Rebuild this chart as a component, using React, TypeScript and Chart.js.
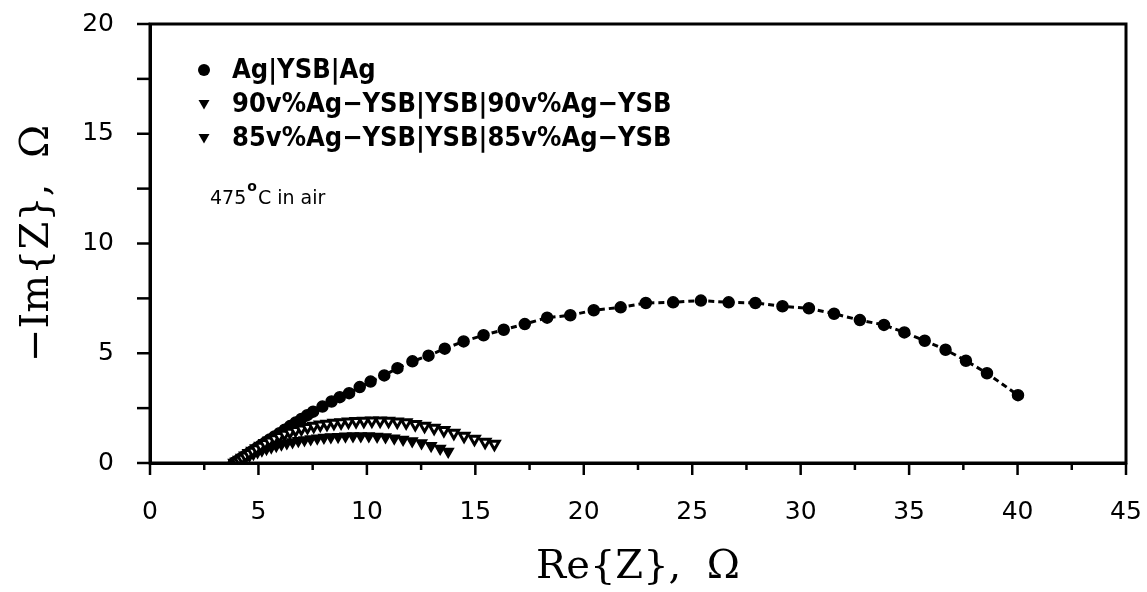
import React, { useEffect, useRef } from "react";
import { Chart, registerables } from "chart.js";

Chart.register(...registerables);

// Ag|YSB|Ag impedance spectrum (Re, -Im) in ohms
const agRe = [
  3.87, 3.95, 4.05, 4.16, 4.28, 4.42, 4.57, 4.74, 4.92, 5.11, 5.31, 5.52, 5.74, 5.97, 6.21, 6.46,
  6.72, 6.98, 7.25, 7.52, 7.95, 8.37, 8.75, 9.18, 9.67, 10.17, 10.8, 11.41, 12.1, 12.84, 13.59,
  14.46, 15.38, 16.31, 17.28, 18.31, 19.38, 20.46, 21.7, 22.86, 24.12, 25.4, 26.68, 27.91, 29.16,
  30.38, 31.54, 32.73, 33.84, 34.78, 35.72, 36.68, 37.62, 38.59, 40.02,
];
const agIm = [
  0.0, 0.05, 0.11, 0.18, 0.26, 0.35, 0.45, 0.56, 0.68, 0.8, 0.93, 1.07, 1.21, 1.36, 1.52, 1.68,
  1.85, 2.01, 2.18, 2.34, 2.57, 2.8, 3.0, 3.18, 3.46, 3.71, 3.99, 4.32, 4.63, 4.89, 5.21, 5.54,
  5.82, 6.07, 6.33, 6.62, 6.73, 6.96, 7.09, 7.29, 7.32, 7.4, 7.32, 7.29, 7.14, 7.05, 6.8, 6.51,
  6.29, 5.95, 5.57, 5.16, 4.66, 4.09, 3.09,
];

// 90v%Ag-YSB|YSB|90v%Ag-YSB
const ag90Re = [
  3.9, 4.0, 4.12, 4.25, 4.4, 4.56, 4.73, 4.91, 5.1, 5.3, 5.51, 5.73, 5.96, 6.2, 6.45, 6.71, 6.98,
  7.26, 7.55, 7.85, 8.16, 8.48, 8.81, 9.15, 9.5, 9.86, 10.23, 10.61, 11.0, 11.4, 11.81, 12.23,
  12.66, 13.1, 13.55, 14.01, 14.48, 14.96, 15.45, 15.88,
];
const ag90Im = [
  0.0, 0.06, 0.14, 0.23, 0.33, 0.44, 0.55, 0.66, 0.78, 0.9, 1.01, 1.12, 1.22, 1.32, 1.41, 1.49,
  1.56, 1.63, 1.69, 1.74, 1.78, 1.82, 1.85, 1.88, 1.9, 1.91, 1.92, 1.92, 1.91, 1.88, 1.84, 1.77,
  1.69, 1.6, 1.49, 1.37, 1.23, 1.09, 0.96, 0.86,
];

// 85v%Ag-YSB|YSB|85v%Ag-YSB
const ag85Re = [
  3.9, 4.0, 4.12, 4.26, 4.42, 4.59, 4.77, 4.96, 5.16, 5.37, 5.59, 5.82, 6.06, 6.31, 6.57, 6.84,
  7.12, 7.41, 7.71, 8.02, 8.34, 8.67, 9.01, 9.36, 9.72, 10.09, 10.47, 10.86, 11.26, 11.67, 12.09,
  12.52, 12.96, 13.38, 13.75,
];
const ag85Im = [
  0.0, 0.05, 0.11, 0.18, 0.26, 0.34, 0.42, 0.5, 0.58, 0.65, 0.72, 0.79, 0.85, 0.91, 0.96, 1.01,
  1.05, 1.09, 1.13, 1.16, 1.18, 1.2, 1.22, 1.23, 1.23, 1.23, 1.21, 1.18, 1.13, 1.07, 1.0, 0.91,
  0.79, 0.66, 0.52,
];

const seriesLabels = [
  "Ag|YSB|Ag",
  "90v%Ag\u2212YSB|YSB|90v%Ag\u2212YSB",
  "85v%Ag\u2212YSB|YSB|85v%Ag\u2212YSB",
];
const xTitle = "Re{Z},  \u03A9";
const yTitle = "\u2212Im{Z},  \u03A9";
const noteValue = "475";
const noteDegree = "o";
const noteRest = "C in air";

const xRange = [0, 45];
const yRange = [0, 20];
const minorStep = 2.5;
const labelStep = 5;

const W = 1147;
const H = 592;

const toPoints = (xs: number[], ys: number[]) => xs.map((x, i) => ({ x, y: ys[i] }));

const framePlugin = {
  id: "frameAndNotes",
  afterDraw(chart: any) {
    const { ctx, chartArea: a, scales } = chart;
    const xs = scales.x;
    const ys = scales.y;
    ctx.save();
    ctx.strokeStyle = "#000";
    ctx.fillStyle = "#000";

    // plot frame
    ctx.lineWidth = 3;
    ctx.strokeRect(a.left, a.top, a.right - a.left, a.bottom - a.top);

    // outward ticks
    ctx.lineWidth = 2.5;
    for (const t of xs.ticks) {
      const px = xs.getPixelForValue(t.value);
      const len = t.value % labelStep === 0 ? 12 : 7;
      ctx.beginPath();
      ctx.moveTo(px, a.bottom);
      ctx.lineTo(px, a.bottom + len);
      ctx.stroke();
    }
    for (const t of ys.ticks) {
      const py = ys.getPixelForValue(t.value);
      ctx.beginPath();
      ctx.moveTo(a.left, py);
      ctx.lineTo(a.left - 13, py);
      ctx.stroke();
    }

    // legend
    const lx = 204;
    const rows = [70, 104, 138];
    ctx.font = "bold 27px 'DejaVu Sans Condensed', 'DejaVu Sans'";
    ctx.textBaseline = "middle";
    ctx.textAlign = "left";
    seriesLabels.forEach((label, i) => {
      const cy = rows[i];
      ctx.beginPath();
      if (i === 0) {
        ctx.arc(lx, cy, 6, 0, Math.PI * 2);
      } else {
        ctx.moveTo(lx - 5.5, cy - 4);
        ctx.lineTo(lx + 5.5, cy - 4);
        ctx.lineTo(lx, cy + 5.5);
        ctx.closePath();
      }
      ctx.fill();
      ctx.fillText(label, 232, cy + 1);
    });

    // temperature note
    ctx.font = "19px 'DejaVu Sans'";
    ctx.textBaseline = "alphabetic";
    let nx = 210;
    const nb = 204;
    ctx.fillText(noteValue, nx, nb);
    nx += ctx.measureText(noteValue).width + 1;
    ctx.font = "bold 14px 'DejaVu Sans'";
    ctx.fillText(noteDegree, nx, nb - 13);
    nx += ctx.measureText(noteDegree).width + 1;
    ctx.font = "19px 'DejaVu Sans'";
    ctx.fillText(noteRest, nx, nb);

    ctx.restore();
  },
};

export default function App() {
  const canvasRef = useRef<HTMLCanvasElement | null>(null);

  useEffect(() => {
    document.body.style.margin = "0";
    const canvas = canvasRef.current;
    if (!canvas) return;

    const tickFont = { family: "'DejaVu Sans'", size: 25 };
    const titleFont = { family: "'DejaVu Serif'", size: 40, lineHeight: 1 };

    const chart = new Chart(canvas, {
      type: "scatter",
      data: {
        datasets: [
          {
            label: seriesLabels[1],
            data: toPoints(ag90Re, ag90Im),
            showLine: false,
            pointStyle: "triangle",
            rotation: 180,
            pointRadius: 5.5,
            pointBackgroundColor: "#fff",
            pointBorderColor: "#000",
            pointBorderWidth: 3,
          },
          {
            label: seriesLabels[2],
            data: toPoints(ag85Re, ag85Im),
            showLine: false,
            pointStyle: "triangle",
            rotation: 180,
            pointRadius: 6,
            pointBackgroundColor: "#000",
            pointBorderColor: "#000",
            pointBorderWidth: 1.5,
          },
          {
            label: seriesLabels[0],
            data: toPoints(agRe, agIm),
            showLine: true,
            borderColor: "#000",
            borderWidth: 3,
            borderDash: [6, 4],
            pointStyle: "circle",
            pointRadius: 5.5,
            pointBackgroundColor: "#000",
            pointBorderColor: "#000",
            pointBorderWidth: 1.5,
          },
        ],
      },
      options: {
        animation: false,
        responsive: false,
        maintainAspectRatio: false,
        layout: { padding: { left: 0, top: 24, right: 21, bottom: 0 } },
        plugins: {
          legend: { display: false },
          tooltip: { enabled: false },
        },
        scales: {
          x: {
            type: "linear",
            min: xRange[0],
            max: xRange[1],
            afterFit: (s: any) => {
              s.height = H - 463;
              s.paddingLeft = 0;
              s.paddingRight = 0;
            },
            ticks: {
              stepSize: minorStep,
              autoSkip: false,
              maxRotation: 0,
              padding: 22,
              color: "#000",
              font: tickFont,
              callback: (v: any) => (Number(v) % labelStep === 0 ? String(v) : ""),
            },
            grid: { drawOnChartArea: false, drawTicks: true, tickLength: 12, color: "rgba(0,0,0,0)" },
            border: { display: true, color: "#000", width: 3 },
            title: {
              display: true,
              text: xTitle,
              color: "#000",
              font: titleFont,
              padding: { top: 0, bottom: 4 },
            },
          },
          y: {
            type: "linear",
            min: yRange[0],
            max: yRange[1],
            afterFit: (s: any) => {
              s.width = 150;
              s.paddingTop = 0;
              s.paddingBottom = 0;
            },
            ticks: {
              stepSize: minorStep,
              autoSkip: false,
              padding: 23,
              color: "#000",
              font: tickFont,
              callback: (v: any) => (Number(v) % labelStep === 0 ? String(v) : ""),
            },
            grid: { drawOnChartArea: false, drawTicks: true, tickLength: 13, color: "rgba(0,0,0,0)" },
            border: { display: true, color: "#000", width: 3 },
            title: {
              display: true,
              text: yTitle,
              color: "#000",
              font: titleFont,
              padding: { top: 18, bottom: 0 },
            },
          },
        },
      },
      plugins: [framePlugin],
    });

    return () => chart.destroy();
  }, []);

  return (
    <div style={{ width: W, height: H, background: "#fff" }}>
      <canvas ref={canvasRef} width={W} height={H} style={{ display: "block", width: W, height: H }} />
    </div>
  );
}
